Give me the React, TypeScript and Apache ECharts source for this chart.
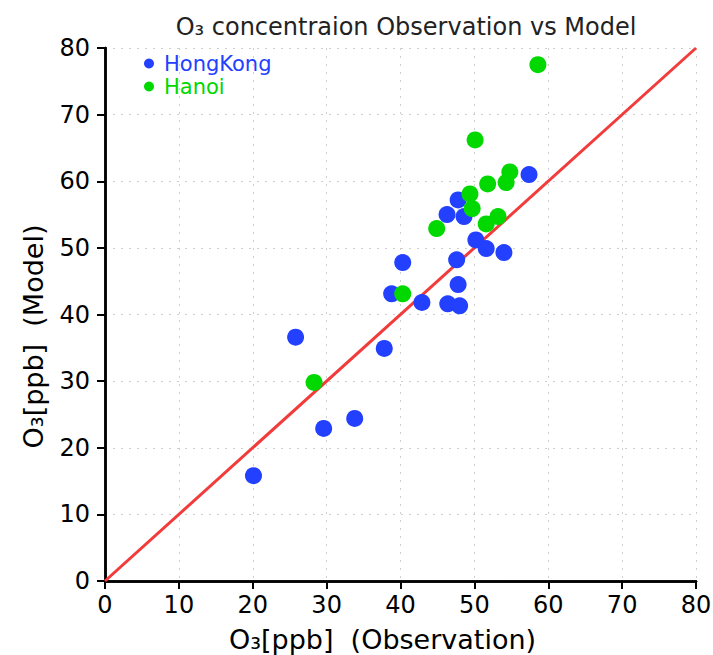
import React, { useEffect, useRef } from "react";
import * as echarts from "echarts";

const hongKong: [number, number][] = [
  [20.1, 15.8], [25.8, 36.6], [29.6, 22.9], [33.8, 24.4], [37.8, 34.9],
  [38.8, 43.1], [40.3, 47.8], [42.9, 41.8], [46.4, 41.6], [48.0, 41.3],
  [47.8, 44.5], [47.6, 48.2], [46.3, 55.0], [47.8, 57.2], [48.6, 54.7],
  [50.2, 51.2], [51.6, 49.9], [54.0, 49.3], [57.4, 61.0],
];
const hanoi: [number, number][] = [
  [28.3, 29.8], [40.3, 43.1], [44.9, 52.9], [49.4, 58.1], [49.7, 55.9],
  [51.8, 59.6], [51.6, 53.6], [53.2, 54.7], [54.3, 59.8], [54.8, 61.4],
  [50.1, 66.2], [58.6, 77.5],
];
const oneToOne: [number, number][] = [[0, 0], [80, 80]];

const BLUE = "#2340ff";
const GREEN = "#00d800";
const RED = "#f23c3c";
const FONT = "DejaVu Sans";

export default function App() {
  const ref = useRef<HTMLDivElement>(null);
  useEffect(() => {
    if (!ref.current) return;
    const chart = echarts.init(ref.current, null, { renderer: "svg" });
    const axisCommon = {
      type: "value",
      min: 0,
      max: 80,
      interval: 10,
      axisLine: { show: true, lineStyle: { color: "#000", width: 2.5 } },
      axisTick: { show: true, inside: false, length: 8, lineStyle: { color: "#000", width: 2 } },
      splitLine: { show: true, lineStyle: { color: "#cfcfcf", type: [2, 6], width: 1 } },
      axisLabel: { color: "#000", fontFamily: FONT, fontSize: 24 },
      nameLocation: "middle",
    };
    const frameAxis = {
      type: "value",
      min: 0,
      max: 80,
      interval: 10,
      axisLine: { show: true, lineStyle: { color: "#000", width: 2.5 } },
      axisTick: { show: false },
      axisLabel: { show: false },
      splitLine: { show: false },
    };
    chart.setOption({
      animation: false,
      backgroundColor: "#fff",
      title: {
        text: "O₃ concentraion Observation vs Model",
        left: 401,
        top: 10,
        textAlign: "center",
        textStyle: { fontFamily: FONT, fontSize: 24, fontWeight: "normal", color: "#222" },
      },
      legend: {
        orient: "vertical",
        left: 144,
        top: 53,
        padding: 0,
        icon: "circle",
        itemWidth: 10,
        itemHeight: 10,
        itemGap: 2,
        textStyle: { fontFamily: FONT, fontSize: 21, lineHeight: 20, padding: [0, 0, 0, 5] },
        data: [
          { name: "HongKong", textStyle: { color: BLUE } },
          { name: "Hanoi", textStyle: { color: GREEN } },
        ],
      },
      grid: {
        left: 105,
        right: 17,
        top: 48,
        bottom: 74,
        outerBoundsMode: "none",
        containLabel: false,
      },
      xAxis: [
        {
          ...axisCommon,
          name: "O₃[ppb]  (Observation)",
          nameGap: 45,
          nameTextStyle: { color: "#000", fontFamily: FONT, fontSize: 27, padding: [0, 36, 0, 0] },
          axisLabel: { ...axisCommon.axisLabel, margin: 12 },
        },
        { ...frameAxis, position: "top" },
      ],
      yAxis: [
        {
          ...axisCommon,
          name: "O₃[ppb]  (Model)",
          nameGap: 58,
          nameTextStyle: { color: "#000", fontFamily: FONT, fontSize: 27, padding: [0, 44, 0, 0] },
          axisLabel: { ...axisCommon.axisLabel, margin: 15 },
        },
        { ...frameAxis, position: "right" },
      ],
      series: [
        {
          type: "line",
          data: oneToOne,
          symbol: "none",
          lineStyle: { color: RED, width: 3 },
          z: 1,
          silent: true,
        },
        {
          name: "HongKong",
          type: "scatter",
          data: hongKong,
          symbolSize: 17,
          itemStyle: { color: BLUE, opacity: 1 },
          z: 3,
        },
        {
          name: "Hanoi",
          type: "scatter",
          data: hanoi,
          symbolSize: 17,
          itemStyle: { color: GREEN, opacity: 1 },
          z: 4,
        },
      ],
    });
    return () => chart.dispose();
  }, []);
  return <div ref={ref} style={{ width: 713, height: 655, position: "absolute", left: 0, top: 0 }} />;
}
